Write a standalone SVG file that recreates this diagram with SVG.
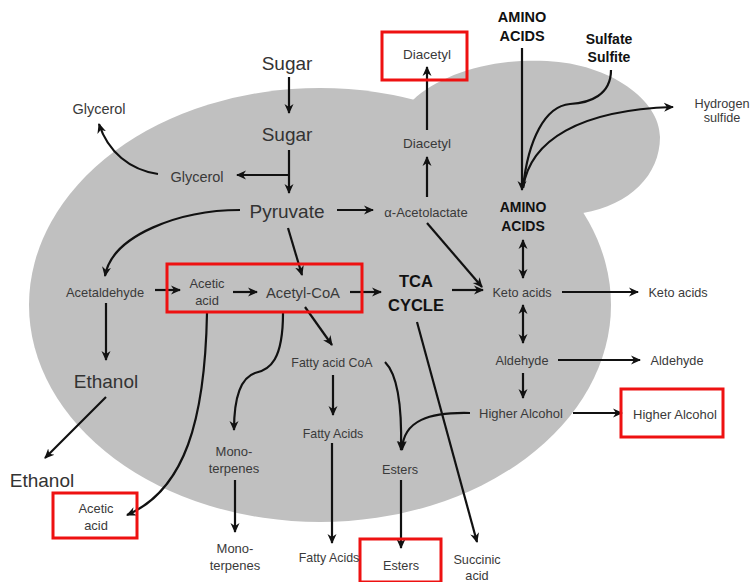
<svg xmlns="http://www.w3.org/2000/svg" width="751" height="582" viewBox="0 0 751 582">
<style>
text{font-family:"Liberation Sans",Arial,sans-serif;text-anchor:middle;fill:#3a3a3a}
.s{font-size:12.7px}
.m{font-size:15px}
.l{font-size:19px;fill:#333}
.b{font-weight:bold;fill:#111}
.box{fill:none;stroke:#ee1111;stroke-width:3}
.c path{fill:none;stroke:#111;stroke-width:2.2}
.a{marker-end:url(#ah)}
.d{marker-start:url(#ah);marker-end:url(#ah)}
</style>
<defs>
<marker id="ah" viewBox="0 0 10 10" refX="9" refY="5" markerWidth="10" markerHeight="10" markerUnits="userSpaceOnUse" orient="auto-start-reverse">
<path d="M0,0.5 L10,5 L0,9.5 L3,5 Z" fill="#111"/>
</marker>
</defs>
<g id="cell" fill="#c0c0c0">
<ellipse cx="320" cy="305" rx="291" ry="217"/>
<path d="M413,100 C440,75 490,58 547,61 C610,64 660,100 660,137 C660,175 630,205 583,213 Z"/>
</g>
<g id="connectors" class="c">
<path class="a" d="M289,77 V113"/>
<path class="a" d="M289,150 V193"/>
<path class="a" d="M289,175 H237"/>
<path class="a" d="M158,174 C130,170 108,152 99,124"/>
<path class="a" d="M337,210 H373"/>
<path class="a" d="M427,197 V157"/>
<path class="a" d="M427,130 V67"/>
<path class="a" d="M522,48 V190"/>
<path d="M611,70 C611,95 590,103 570,104 C545,106 528,140 523,188"/>
<path class="a" d="M523,188 C530,140 580,110 673,107"/>
<path class="a" d="M427,223 L482,287"/>
<path class="a" d="M240,210 C180,210 112,235 105,276"/>
<path class="a" d="M155,290 H180"/>
<path class="a" d="M233,292 H257"/>
<path class="a" d="M288,228 L302,275"/>
<path class="a" d="M350,292 H381"/>
<path class="a" d="M452,290 H483"/>
<path class="a" d="M562,292 H638"/>
<path class="d" d="M523,240 V278"/>
<path class="d" d="M523,305 V343"/>
<path class="a" d="M558,360 H640"/>
<path class="a" d="M523,373 V398"/>
<path class="a" d="M573,413 H622"/>
<path class="a" d="M470,413 C430,412 403,420 402,450"/>
<path class="a" d="M385,362 C398,375 402,410 401,450"/>
<path class="a" d="M401,480 V548"/>
<path class="a" d="M417,322 L477,542"/>
<path class="a" d="M106,303 V360"/>
<path class="a" d="M106,397 L45,458"/>
<path class="a" d="M207,313 C205,420 185,490 127,515"/>
<path class="a" d="M283,313 C283,360 270,370 255,373 C240,378 234,400 234,430"/>
<path class="a" d="M305,307 L332,345"/>
<path class="a" d="M333,375 V415"/>
<path class="a" d="M332,443 V543"/>
<path class="a" d="M235,480 V532"/>
</g>
<g id="sugar-out"><text class="l" x="287" y="70">Sugar</text></g>
<g id="sugar-in"><text class="l" x="287" y="141">Sugar</text></g>
<g id="glycerol-in"><text class="m" x="197" y="182" style="font-size:14.5px">Glycerol</text></g>
<g id="glycerol-out"><text class="m" x="99" y="114" style="font-size:14.5px">Glycerol</text></g>
<g id="pyruvate"><text class="l" x="287" y="218">Pyruvate</text></g>
<g id="acetolactate"><text class="s" x="426" y="217" style="font-size:13px">α-Acetolactate</text></g>
<g id="diacetyl-in"><text class="s" x="427" y="148" style="font-size:13.5px">Diacetyl</text></g>
<g id="diacetyl-out"><rect class="box" x="382" y="32" width="85" height="48"/><text class="s" x="427" y="59" style="font-size:13.5px">Diacetyl</text></g>
<g id="amino-out"><text class="b" x="522" y="22" style="font-size:14.5px">AMINO</text><text class="b" x="522" y="41" style="font-size:14.5px">ACIDS</text></g>
<g id="sulfate"><text class="b" x="609" y="44" style="font-size:14px">Sulfate</text><text class="b" x="609" y="62" style="font-size:14px">Sulfite</text></g>
<g id="h2s"><text class="s" x="722" y="108">Hydrogen</text><text class="s" x="722" y="122">sulfide</text></g>
<g id="amino-in"><text class="b" x="523" y="212" style="font-size:14px">AMINO</text><text class="b" x="523" y="231" style="font-size:14px">ACIDS</text></g>
<g id="keto-in"><text class="s" x="522" y="297">Keto acids</text></g>
<g id="keto-out"><text class="s" x="678" y="297">Keto acids</text></g>
<g id="tca"><text class="b" x="416" y="287" style="font-size:16.5px">TCA</text><text class="b" x="416" y="311" style="font-size:16.5px">CYCLE</text></g>
<g id="aldehyde-in"><text class="s" x="522" y="365">Aldehyde</text></g>
<g id="aldehyde-out"><text class="s" x="677" y="365">Aldehyde</text></g>
<g id="higher-in"><text class="s" x="521" y="418" style="font-size:13px">Higher Alcohol</text></g>
<g id="higher-out"><rect class="box" x="621" y="389" width="102" height="48"/><text class="s" x="675" y="419" style="font-size:13px">Higher Alcohol</text></g>
<g id="esters-in"><text class="s" x="400" y="474">Esters</text></g>
<g id="esters-out"><rect class="box" x="360" y="539" width="81" height="43"/><text class="s" x="401" y="570">Esters</text></g>
<g id="succinic"><text class="s" x="477" y="564">Succinic</text><text class="s" x="477" y="580">acid</text></g>
<g id="acetaldehyde"><text class="s" x="105" y="297" style="font-size:12.9px">Acetaldehyde</text></g>
<g id="acetic-acetyl"><rect class="box" x="167" y="264" width="195" height="48"/></g>
<g id="acetic-in"><text class="s" x="207" y="288" style="font-size:12.9px">Acetic</text><text class="s" x="207" y="305" style="font-size:12.9px">acid</text></g>
<g id="acetylcoa"><text class="m" x="303" y="298" style="font-size:14.8px">Acetyl-CoA</text></g>
<g id="ethanol-in"><text class="l" x="106" y="388">Ethanol</text></g>
<g id="ethanol-out"><text class="l" x="42" y="487">Ethanol</text></g>
<g id="acetic-out"><rect class="box" x="53" y="493" width="84" height="45"/><text class="s" x="96" y="513" style="font-size:12.9px">Acetic</text><text class="s" x="96" y="530" style="font-size:12.9px">acid</text></g>
<g id="monoterpenes-in"><text class="s" x="234" y="456" style="font-size:13px">Mono-</text><text class="s" x="234" y="473" style="font-size:13px">terpenes</text></g>
<g id="monoterpenes-out"><text class="s" x="235" y="553" style="font-size:13px">Mono-</text><text class="s" x="235" y="570" style="font-size:13px">terpenes</text></g>
<g id="fattyacidcoa"><text class="s" x="332" y="367" style="font-size:12.4px">Fatty acid CoA</text></g>
<g id="fattyacids-in"><text class="s" x="333" y="438" style="font-size:12.4px">Fatty Acids</text></g>
<g id="fattyacids-out"><text class="s" x="329" y="562" style="font-size:12.4px">Fatty Acids</text></g>
</svg>
